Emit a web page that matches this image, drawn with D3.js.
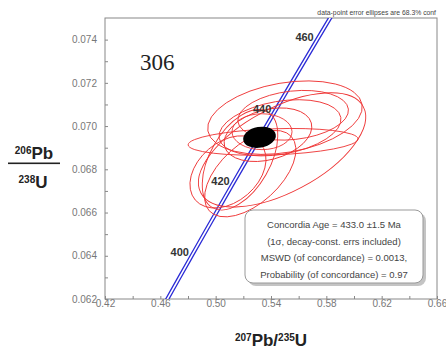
<!DOCTYPE html>
<html>
<head>
<meta charset="utf-8">
<script src="https://cdn.jsdelivr.net/npm/d3@7"></script>
<style>
  body { margin: 0; background: #fff; }
  svg { display: block; font-family: "Liberation Sans", Arial, sans-serif; }
  .axis text { font-size: 10px; fill: #777; }
  .axis line { stroke: #888; }
  .box-text { font-size: 9.5px; fill: #444; text-anchor: middle; }
</style>
</head>
<body>
<svg id="chart"></svg>
<script>
// axis ticks
const xTicks = [0.42, 0.44, 0.46, 0.48, 0.50, 0.52, 0.54, 0.56, 0.58, 0.60, 0.62, 0.64, 0.66];
const xTickLabels = ['0.42', '', '0.46', '', '0.50', '', '0.54', '', '0.58', '', '0.62', '', '0.66'];
const yTicks = [0.062, 0.063, 0.064, 0.065, 0.066, 0.067, 0.068, 0.069, 0.070, 0.071, 0.072, 0.073, 0.074];
const yTickLabels = ['0.062', '', '0.064', '', '0.066', '', '0.068', '', '0.070', '', '0.072', '', '0.074'];

// concordia curve (age in Ma, 207Pb/235U, 206Pb/238U)
const concAge = [385, 400, 410, 420, 430, 440, 450, 460, 470];
const conc207 = [0.46107, 0.48281, 0.49749, 0.51231, 0.52728, 0.54239, 0.55766, 0.57307, 0.58864];
const conc206 = [0.061543, 0.064016, 0.065667, 0.067322, 0.068979, 0.070638, 0.072300, 0.073965, 0.075633];
const ageLabels = [400, 420, 440, 460];

// data-point error ellipses
const ellX = [0.5480, 0.5415, 0.5501, 0.5378, 0.5335, 0.5176, 0.5089, 0.5465, 0.5250, 0.5560];
const ellY = [0.06890, 0.06927, 0.07039, 0.06960, 0.06974, 0.06844, 0.06788, 0.06992, 0.06780, 0.07050];
const ellSX = [0.0604, 0.0614, 0.0559, 0.0317, 0.0217, 0.0273, 0.0275, 0.0441, 0.0330, 0.0400];
const ellSY = [0.00264, 0.00062, 0.00170, 0.00124, 0.00083, 0.00232, 0.00167, 0.00130, 0.00200, 0.00115];
const ellRho = [0.58, 0.22, 0.29, 0.30, 0.0, 0.49, 0.35, 0.30, 0.55, 0.20];

// concordia age ellipse
const concordiaX = 0.5317, concordiaY = 0.06948;
const concordiaSX = 0.0118, concordiaSY = 0.00049, concordiaRho = 0.16;

const sampleName = '306';
const noteText = 'data-point error ellipses are 68.3% conf';
const boxLines = [
  'Concordia Age = 433.0 \u00b11.5 Ma',
  '(1\u03c3, decay-const. errs included)',
  'MSWD (of concordance) = 0.0013,',
  'Probability (of concordance) = 0.97'
];

const config = {
  containerWidth: 446,
  containerHeight: 349,
  margin: { top: 18, right: 9, bottom: 50, left: 105 }
};

const width = config.containerWidth - config.margin.left - config.margin.right;
const height = config.containerHeight - config.margin.top - config.margin.bottom;

const svg = d3.select('#chart')
    .attr('width', config.containerWidth)
    .attr('height', config.containerHeight);

const chart = svg.append('g')
    .attr('transform', `translate(${config.margin.left},${config.margin.top})`);

const xScale = d3.scaleLinear().domain([0.42, 0.66]).range([0, width]);
const yScale = d3.scaleLinear().domain([0.062, 0.075]).range([height, 0]);

svg.append('defs').append('clipPath')
    .attr('id', 'plot-clip')
  .append('rect')
    .attr('width', width)
    .attr('height', height);

// axes, ticks pointing inward
const xAxis = d3.axisBottom(xScale)
    .tickValues(xTicks)
    .tickSizeInner(-3)
    .tickSizeOuter(0)
    .tickPadding(1)
    .tickFormat((d, i) => xTickLabels[i]);

const yAxis = d3.axisLeft(yScale)
    .tickValues(yTicks)
    .tickSizeInner(-3)
    .tickSizeOuter(0)
    .tickPadding(8)
    .tickFormat((d, i) => yTickLabels[i]);

chart.append('g')
    .attr('class', 'axis x-axis')
    .attr('transform', `translate(0,${height})`)
    .call(xAxis)
    .call(g => g.select('.domain').remove())
    .selectAll('text').attr('font-family', null);

chart.append('g')
    .attr('class', 'axis y-axis')
    .call(yAxis)
    .call(g => g.select('.domain').remove())
    .selectAll('text').attr('font-family', null);

// frame
chart.append('rect')
    .attr('width', width)
    .attr('height', height)
    .attr('fill', 'none')
    .attr('stroke', '#888')
    .attr('stroke-width', 1);

const plot = chart.append('g').attr('clip-path', 'url(#plot-clip)');

// turn sx, sy, rho into a pixel-space ellipse
const kx = xScale(1) - xScale(0);
const ky = yScale(0) - yScale(1);
function ellipseShape(cx, cy, sx, sy, rho) {
  const a = (sx * kx) ** 2;
  const c = (sy * ky) ** 2;
  const b = -rho * sx * kx * sy * ky;
  const mid = (a + c) / 2;
  const r = Math.sqrt(((a - c) / 2) ** 2 + b * b);
  return {
    cx: xScale(cx),
    cy: yScale(cy),
    rx: Math.sqrt(mid + r),
    ry: Math.sqrt(Math.max(mid - r, 0)),
    angle: 0.5 * Math.atan2(2 * b, a - c) * 180 / Math.PI
  };
}

// concordia band (double blue line)
const concData = concAge.map((t, i) => ({ age: t, x: conc207[i], y: conc206[i] }));
const line = d3.line()
    .x(d => xScale(d.x))
    .y(d => yScale(d.y))
    .curve(d3.curveCatmullRom);

plot.append('path')
    .datum(concData)
    .attr('d', line)
    .attr('fill', 'none')
    .attr('stroke', '#2b2bd6')
    .attr('stroke-width', 4.2);

plot.append('path')
    .datum(concData)
    .attr('d', line)
    .attr('fill', 'none')
    .attr('stroke', '#fff')
    .attr('stroke-width', 1.6);

// data-point ellipses
const ellipses = ellX.map((x, i) => ellipseShape(x, ellY[i], ellSX[i], ellSY[i], ellRho[i]));
plot.selectAll('.data-ellipse')
    .data(ellipses)
  .join('ellipse')
    .attr('class', 'data-ellipse')
    .attr('cx', d => d.cx)
    .attr('cy', d => d.cy)
    .attr('rx', d => d.rx)
    .attr('ry', d => d.ry)
    .attr('transform', d => `rotate(${d.angle},${d.cx},${d.cy})`)
    .attr('fill', 'none')
    .attr('stroke', '#ee3535')
    .attr('stroke-width', 0.9);

// concordia age ellipse
const ce = ellipseShape(concordiaX, concordiaY, concordiaSX, concordiaSY, concordiaRho);
plot.append('ellipse')
    .attr('cx', ce.cx)
    .attr('cy', ce.cy)
    .attr('rx', ce.rx)
    .attr('ry', ce.ry)
    .attr('transform', `rotate(${ce.angle},${ce.cx},${ce.cy})`)
    .attr('fill', '#000');

// age labels on concordia
const labelData = concData.filter(d => ageLabels.includes(d.age));
plot.selectAll('.age-label')
    .data(labelData)
  .join('text')
    .attr('class', 'age-label')
    .attr('x', d => xScale(d.x) - 3)
    .attr('y', d => yScale(d.y) + 1)
    .attr('text-anchor', 'end')
    .attr('font-size', 11)
    .attr('font-weight', 'bold')
    .attr('fill', '#333')
    .text(d => d.age);

// sample name
chart.append('text')
    .attr('x', 35)
    .attr('y', 52)
    .attr('font-family', '"Liberation Serif", "Times New Roman", serif')
    .attr('font-size', 23)
    .attr('fill', '#222')
    .text(sampleName);

// note above the frame
svg.append('text')
    .attr('x', config.margin.left + width - 1)
    .attr('y', 15)
    .attr('text-anchor', 'end')
    .attr('font-size', 6.8)
    .attr('fill', '#444')
    .text(noteText);

// result box
const box = svg.append('g');
box.append('rect')
    .attr('x', 248)
    .attr('y', 213)
    .attr('width', 178)
    .attr('height', 73)
    .attr('rx', 8)
    .attr('fill', '#c4c4c4');
box.append('rect')
    .attr('x', 245)
    .attr('y', 210)
    .attr('width', 178)
    .attr('height', 73)
    .attr('rx', 8)
    .attr('fill', '#fff')
    .attr('stroke', '#999')
    .attr('stroke-width', 1);
box.selectAll('.box-text')
    .data(boxLines)
  .join('text')
    .attr('class', 'box-text')
    .attr('x', 334)
    .attr('y', (d, i) => 228 + i * 16.7)
    .text(d => d);

// y-axis title as a fraction
const yTitle = svg.append('g').attr('fill', '#222').attr('font-weight', 'bold');
const yTop = yTitle.append('text').attr('x', 34).attr('y', 159).attr('text-anchor', 'middle');
yTop.append('tspan').attr('font-size', 10).attr('baseline-shift', '55%').text('206');
yTop.append('tspan').attr('font-size', 17).text('Pb');
yTitle.append('rect')
    .attr('x', 8)
    .attr('y', 162.5)
    .attr('width', 52)
    .attr('height', 1.6);
const yBot = yTitle.append('text').attr('x', 33).attr('y', 188).attr('text-anchor', 'middle');
yBot.append('tspan').attr('font-size', 10).attr('baseline-shift', '55%').text('238');
yBot.append('tspan').attr('font-size', 17).text('U');

// x-axis title
const xTitle = svg.append('text')
    .attr('x', 271)
    .attr('y', 346)
    .attr('text-anchor', 'middle')
    .attr('font-weight', 'bold')
    .attr('fill', '#222');
xTitle.append('tspan').attr('font-size', 10).attr('baseline-shift', '55%').text('207');
xTitle.append('tspan').attr('font-size', 17).text('Pb/');
xTitle.append('tspan').attr('font-size', 10).attr('baseline-shift', '55%').text('235');
xTitle.append('tspan').attr('font-size', 17).text('U');
</script>
</body>
</html>
